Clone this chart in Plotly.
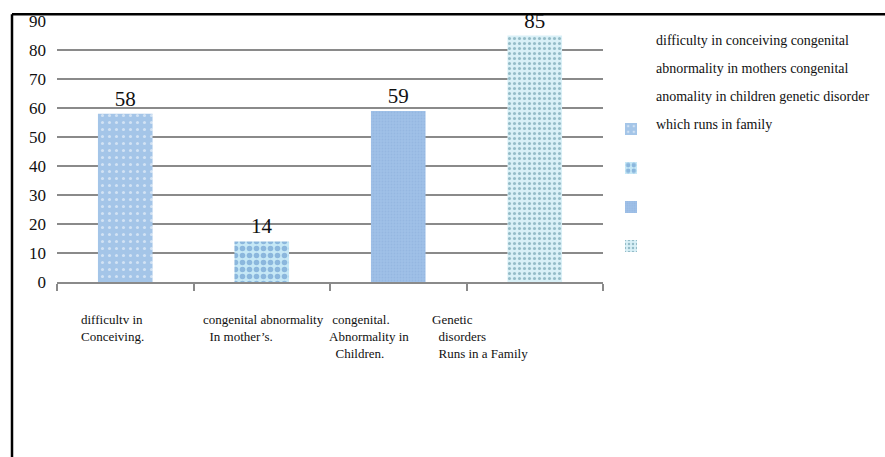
import plotly.graph_objects as go

# ---- data ----
categories = ["difficulty in conceiving", "congenital abnormality in mothers",
              "congenital anomality in children", "genetic disorder which runs in family"]
values = [58, 14, 59, 85]
x_labels = ["difficultv in<br>Conceiving.",
            "congenital abnormality<br>&nbsp;&nbsp;In mother’s.",
            "&nbsp;congenital.<br>Abnormality in<br>&nbsp;&nbsp;Children.",
            "Genetic<br>&nbsp;&nbsp;disorders<br>&nbsp;&nbsp;Runs in a Family"]
y_ticks = [0, 10, 20, 30, 40, 50, 60, 70, 80, 90]
legend_lines = ["difficulty in conceiving congenital",
                "abnormality in mothers congenital",
                "anomality in children genetic disorder",
                "which runs in family"]

# ---- styles ----
patterns = [
    dict(shape=".", bgcolor="#a4c5e8", fgcolor="#ffffff", size=7, solidity=0.15),
    dict(shape=".", bgcolor="#c6e8f6", fgcolor="#4f86c4", size=7, solidity=0.5),
    dict(shape=".", bgcolor="#9fc0e7", fgcolor="#8caedb", size=3, solidity=0.3),
    dict(shape=".", bgcolor="#d9f0f7", fgcolor="#4f8797", size=5, solidity=0.3),
]
label_shift = [-46, -61, -71, -105]

W, H = 885, 457
L, R, T, B = 57, 282, 14, 175
pw, ph = W - L - R, H - T - B

def px(x):
    return (x - L) / pw

def py(y):
    return (H - B - y) / ph

serif = "Liberation Serif, Times New Roman, serif"

fig = go.Figure()
for i, (cat, v) in enumerate(zip(categories, values)):
    fig.add_trace(go.Bar(
        x=[cat], y=[v], name="", width=0.4,
        marker=dict(color=patterns[i]["bgcolor"], line=dict(width=0), pattern=patterns[i]),
        text=[v], textposition="outside", cliponaxis=False,
        textfont=dict(family=serif, size=21, color="#111111"),
        legendgroup=str(i), showlegend=True,
    ))

annotations = []
for i, (cat, lab) in enumerate(zip(categories, x_labels)):
    annotations.append(dict(
        x=cat, xref="x", y=py(311), yref="paper", text=lab, showarrow=False,
        xanchor="left", yanchor="top", align="left", xshift=label_shift[i],
        font=dict(family=serif, size=13, color="#111111"),
    ))
for j, line in enumerate(legend_lines):
    annotations.append(dict(
        x=px(654), xref="paper", y=py(24 + 29 * j), yref="paper", text=line,
        showarrow=False, xanchor="left", yanchor="top", align="left",
        font=dict(family=serif, size=14, color="#111111"),
    ))

shapes = [
    dict(type="line", xref="paper", yref="paper", x0=px(12), x1=px(W + 5), y0=py(7), y1=py(7),
         line=dict(color="#000000", width=2.5)),
    dict(type="line", xref="paper", yref="paper", x0=px(12), x1=px(12), y0=py(7), y1=py(H + 5),
         line=dict(color="#000000", width=2.5)),
]

fig.update_layout(
    width=W, height=H,
    margin=dict(l=L, r=R, t=T, b=B),
    paper_bgcolor="white", plot_bgcolor="white",
    showlegend=True,
    legend=dict(x=px(611), y=py(110), xanchor="left", yanchor="top",
                font=dict(size=10), itemwidth=30, tracegroupgap=20,
                bgcolor="rgba(0,0,0,0)"),
    bargap=0.6,
    annotations=annotations,
    shapes=shapes,
    xaxis=dict(categoryorder="array", categoryarray=categories,
               showticklabels=False, showline=True, linecolor="#8a8a8a", linewidth=2,
               ticks="outside", tickson="boundaries", ticklen=7, tickcolor="#8a8a8a",
               tickwidth=1.5, showgrid=False),
    yaxis=dict(range=[0, 90], tickvals=y_ticks, ticktext=[str(t) for t in y_ticks],
               showgrid=True, gridcolor="#8a8a8a", gridwidth=2, zeroline=False,
               showline=False, ticks="", ticklabelstandoff=10,
               tickfont=dict(family=serif, size=17, color="#111111")),
)

fig.write_html("out.html")
